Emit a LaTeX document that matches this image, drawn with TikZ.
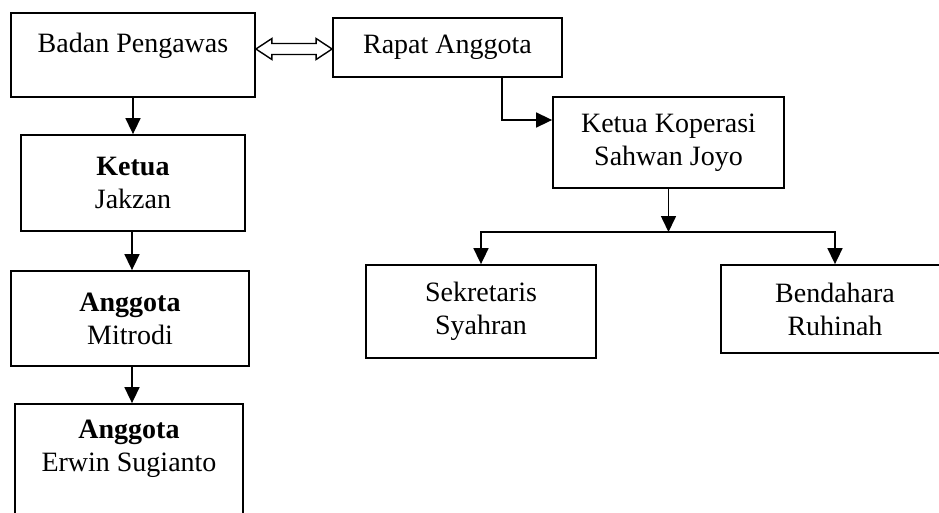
\documentclass[tikz,border=0pt]{standalone}
\usepackage{fontspec}
\setmainfont{Liberation Serif}
\usetikzlibrary{arrows.meta,calc}
\begin{document}
\begin{tikzpicture}[x=1pt,y=-1pt,
  box/.style={draw,line width=1.8pt,rectangle,inner sep=0pt},
  txt/.style={align=center,font=\fontsize{28}{33}\selectfont,inner sep=0pt},
  arr/.style={line width=1.6pt,-{Triangle[length=16pt,width=15pt]}},
  ln/.style={line width=1.6pt}]
\useasboundingbox (0,0) rectangle (939,512);
% left column
\node[box,minimum width=244pt,minimum height=84pt] (badan) at (133,55) {};
\node[txt] (badant) at (133,46) {Badan Pengawas};
\node[box,minimum width=229pt,minimum height=59pt] (rapat) at (447.5,47.5) {};
\node[txt] (rapatt) at (447.5,47) {Rapat Anggota};
\node[box,txt,minimum width=224pt,minimum height=96pt] (ketua) at (133,183) {\textbf{Ketua}\\Jakzan};
\node[box,txt,minimum width=238pt,minimum height=95pt] (mitrodi) at (130,318.5) {\textbf{Anggota}\\Mitrodi};
\node[box,minimum width=228pt,minimum height=130pt] (erwin) at (129,469) {};
\node[txt] (erwint) at (129,449) {\textbf{Anggota}\\Erwin Sugianto};
% right part
\node[box,txt,minimum width=231pt,minimum height=91pt] (kk) at (668.5,142.5) {Ketua Koperasi\\Sahwan Joyo};
\node[box,txt,minimum width=230pt,minimum height=93pt] (sek) at (481,311.5) {Sekretaris\\Syahran};
\node[box,txt,minimum width=228pt,minimum height=88pt] (ben) at (835,309) {Bendahara\\Ruhinah};
% double arrow
\coordinate (dl) at ([yshift=-1.5pt]badan.east|-rapat.west);
\coordinate (dr) at ([yshift=-1.5pt]rapat.west);
\draw[line width=1.4pt,line join=miter]
  (dl) -- ++(16,-10.5) -- ++(0,5) -- ($(dr)+(-16,-5.5)$) -- ++(0,-5)
  -- (dr) -- ++(-16,10.5) -- ++(0,-5) -- ($(dl)+(16,5.5)$) -- ++(0,5) -- cycle;
% vertical arrows
\draw[arr] (badan.south) -- (ketua.north);
\draw[arr] (ketua.south -| 132,0) -- (mitrodi.north -| 132,0);
\draw[arr] (mitrodi.south -| 132,0) -- (erwin.north -| 132,0);
% elbow
\coordinate (el) at ([xshift=54.5pt]rapat.south);
\draw[arr] (el) |- ([yshift=22.5pt]kk.west);
% fork
\coordinate (fl) at (481,232);
\coordinate (fr) at (835,232);
\draw[arr] (kk.south) -- (kk.south |- fl);
\draw[ln] ([xshift=-0.8pt]fl) -- ([xshift=0.8pt]fr);
\draw[arr] (fl) -- (sek.north);
\draw[arr] (fr) -- (ben.north);
\end{tikzpicture}
\end{document}
